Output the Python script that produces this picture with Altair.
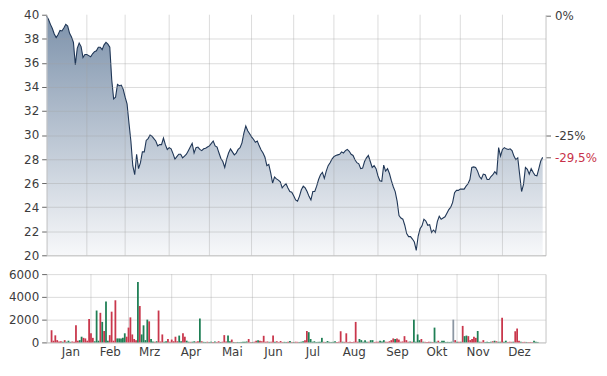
import json
import altair as alt
import pandas as pd

# ---------------- data ----------------
MONTHS = ["Jan", "Feb", "Mrz", "Apr", "Mai", "Jun", "Jul", "Aug", "Sep", "Okt", "Nov", "Dez"]

PRICE_JAN = [39.9, 39.6, 39.2, 38.85, 38.4, 38.1, 38.35, 38.7, 38.65, 38.9, 39.2, 39.05, 38.45, 38.15, 37.7,
             35.85, 37.2, 37.65, 37.35, 36.45, 36.7]
PRICE_FEB = [36.7, 36.6, 36.5, 36.75, 36.93, 37.0, 37.3, 37.3, 37.1, 37.5, 37.7, 37.55, 37.3, 34.6, 33.0,
             33.15, 34.2, 34.1, 34.15, 33.8]
PRICE_MRZ = [33.15, 32.6, 31.0, 29.5, 27.45, 26.7, 28.4, 27.2, 27.7, 28.6, 28.6, 29.55, 29.7, 30.0, 29.9,
             29.7, 29.5, 29.1, 29.2, 29.2, 29.75, 29.2, 28.8]
PRICE_APR = [28.95, 28.85, 28.45, 28.0, 28.2, 28.4, 28.4, 28.1, 28.25, 28.4, 28.7, 29.0, 29.3, 28.5, 28.95,
             29.0, 28.8, 28.7, 28.85, 28.9, 29.0]
PRICE_MAI = [29.1, 29.3, 29.5, 29.1, 29.0, 28.5, 28.05, 27.8, 27.3, 28.0, 28.5, 28.85, 28.6, 28.35, 28.5,
             28.8, 28.95, 29.35, 30.15, 30.75, 30.35, 30.1]
PRICE_JUN = [29.85, 29.65, 29.4, 29.5, 29.1, 28.75, 28.5, 28.15, 27.45, 27.55, 26.85, 26.0, 26.5, 26.35, 26.25,
             26.1, 25.6, 25.8, 25.95, 25.6, 25.3, 25.25]
PRICE_JUL = [24.95, 24.6, 24.5, 24.9, 25.45, 25.75, 25.6, 25.3, 24.9, 24.6, 25.3, 25.3, 25.75, 26.3, 26.7,
             26.9, 26.4, 27.0, 27.45, 27.7, 28.0]
PRICE_AUG = [28.2, 28.3, 28.35, 28.4, 28.6, 28.5, 28.7, 28.8, 28.65, 28.4, 28.3, 27.95, 27.7, 27.6, 27.2,
             27.25, 27.8, 28.1, 28.3, 27.8, 27.3, 27.45, 27.2]
PRICE_SEP = [26.6, 26.2, 26.15, 27.5, 27.0, 27.2, 26.8, 26.2, 25.7, 25.3, 24.5, 23.3, 23.1, 23.0, 22.5,
             21.8, 21.55, 21.55, 21.35, 21.1, 20.4, 21.6]
PRICE_OKT = [22.2, 22.45, 23.0, 22.85, 22.5, 22.55, 21.9, 22.1, 21.9, 22.8, 23.25, 23.0, 23.1, 23.2, 23.5,
             23.8, 24.0, 24.4, 25.2, 25.4, 25.4]
PRICE_NOV = [25.5, 25.5, 25.5, 25.75, 25.95, 26.3, 27.3, 27.35, 27.3, 27.0, 26.55, 26.35, 26.75, 26.7, 26.3,
             26.3, 26.55, 26.7, 26.95, 26.75, 28.95, 28.25]
PRICE_DEZ = [28.8, 28.95, 28.85, 28.8, 28.85, 28.7, 28.25, 27.95, 28.1, 26.7, 25.3, 25.9, 27.3, 27.15, 26.75,
             27.2, 26.9, 26.65, 26.6, 27.2, 27.85, 28.14]

VOL_JAN = [1070, 150, 620, 200, 80, 100, 60, 200, 60, 150, 50, 80, 60, 1500, 150, 200, 500, 400, 350, 150, 2050]
VOL_FEB = [800, 400, 100, 2800, 150, 2600, 1800, 1000, 3600, 150, 640, 2700, 150, 3700, 350, 350, 350, 400, 800, 500]
VOL_MRZ = [1300, 2200, 700, 300, 200, 5300, 3200, 700, 1500, 200, 2000, 1850, 300, 80, 60, 100, 2800, 80, 700,
           60, 100, 300, 60]
VOL_APR = [250, 100, 500, 100, 600, 100, 800, 500, 150, 60, 50, 60, 100, 60, 100, 2100, 100, 50, 40, 60, 40]
VOL_MAI = [60, 40, 80, 40, 100, 40, 60, 640, 80, 600, 100, 250, 40, 30, 40, 30, 40, 50, 60, 80, 300, 40]
VOL_JUN = [40, 60, 150, 200, 150, 100, 580, 60, 80, 50, 60, 600, 60, 100, 40, 120, 40, 50, 40, 60, 120, 40]
VOL_JUL = [40, 60, 50, 40, 60, 100, 200, 1000, 900, 300, 60, 100, 40, 50, 60, 400, 50, 40, 120, 50, 40]
VOL_AUG = [50, 100, 40, 60, 980, 60, 50, 800, 40, 50, 40, 60, 1800, 60, 300, 200, 60, 200, 50, 60, 200, 200, 40]
VOL_SEP = [60, 60, 150, 80, 200, 60, 50, 100, 200, 350, 300, 350, 250, 60, 80, 550, 200, 60, 80, 60, 2000, 60]
VOL_OKT = [700, 200, 300, 60, 50, 40, 60, 50, 40, 1300, 60, 150, 40, 150, 150, 40, 50, 40, 60, 2000, 200]
VOL_NOV = [60, 50, 60, 1450, 550, 600, 550, 200, 300, 500, 400, 1000, 60, 50, 200, 40, 50, 40, 60, 100, 150, 100]
VOL_DEZ = [50, 60, 2170, 50, 150, 40, 60, 50, 60, 980, 1220, 150, 60, 40, 50, 40, 30, 40, 30, 150, 60, 40]

# bar colour per day: r = down, g = up, n = unchanged
DIR_JAN = "rrrrrrgrgggrrrrggrrrr"
DIR_FEB = "rrgggrgrggrrrrgggggr"
DIR_MRZ = "rrrrrgrggggrggrgrrrggrr"
DIR_APR = "rrrrggrrggrggrrgrggrg"
DIR_MAI = "grgrrgrrrggrgrggggggrr"
DIR_JUN = "grrgrrrrrgrrgrrrrggrgr"
DIR_JUL = "grrgggrrggggggggrgggg"
DIR_AUG = "ggrrrgrrrrrrrrgggggrggr"
DIR_SEP = "rrgggrrrrrgrrrrrrrgrgg"
DIR_OKT = "ggrgrrrgrggrgggggggnr"
DIR_NOV = "grgrggrrrrrggrrggggrgr"
DIR_DEZ = "ggrggrrrgrrrgrrgrrrggg"

# ---------------- table ----------------
prices = (PRICE_JAN + PRICE_FEB + PRICE_MRZ + PRICE_APR + PRICE_MAI + PRICE_JUN +
          PRICE_JUL + PRICE_AUG + PRICE_SEP + PRICE_OKT + PRICE_NOV + PRICE_DEZ)
vols = (VOL_JAN + VOL_FEB + VOL_MRZ + VOL_APR + VOL_MAI + VOL_JUN +
        VOL_JUL + VOL_AUG + VOL_SEP + VOL_OKT + VOL_NOV + VOL_DEZ)
dirs = (DIR_JAN + DIR_FEB + DIR_MRZ + DIR_APR + DIR_MAI + DIR_JUN +
        DIR_JUL + DIR_AUG + DIR_SEP + DIR_OKT + DIR_NOV + DIR_DEZ)

dates = pd.bdate_range("2022-01-03", "2022-12-30")
n = len(dates)
df = pd.DataFrame({
    "t": list(range(n)),
    "date": dates.strftime("%Y-%m-%d"),
    "price": prices,
    "vol": vols,
    "dir": list(dirs),
})

month_no = dates.month
starts = [int(df["t"][month_no == m].min()) for m in range(1, 13)]
ends = starts[1:] + [n]
mids = [(s + e) // 2 for s, e in zip(starts, ends)]
grid_df = pd.DataFrame({"t": starts[1:]})

p0 = prices[0]
p25 = p0 * 0.75
plast = prices[-1]


def de_pct(v):
    s = f"{round(v, 1):.1f}".rstrip("0").rstrip(".")
    if s in ("-0", ""):
        s = "0"
    return s.replace(".", ",") + "%"


lab0 = de_pct(0.0)
lab25 = de_pct(-25.0)
lablast = de_pct((plast / p0 - 1) * 100)
t1 = (p0 + p25) / 2
t2 = (p25 + plast) / 2

# ---------------- style ----------------
TXT = "#3c3c3c"
RED_TXT = "#c8324a"
GRID = "rgba(160,160,160,0.38)"
AX = "#c4c4c4"
TICK = "#666666"
RED = "#c9374c"
GREEN = "#1f7f55"
GRAY = "#8c97a3"
LINE = "#1f3656"
W = 504

xscale = alt.Scale(domain=[0, 260.5], nice=False, zero=False)

# ---------------- price panel ----------------
price_x_axis = alt.Axis(labels=False, ticks=False, grid=False, domain=True, domainColor=AX, title=None)

area = alt.Chart(df).mark_area(
    color=alt.Gradient(
        gradient="linear",
        stops=[alt.GradientStop(color="#7d92ab", offset=0),
               alt.GradientStop(color="#f7f8fa", offset=1)],
        x1=1, x2=1, y1=0, y2=1,
    )
).encode(
    x=alt.X("t:Q", scale=xscale, axis=price_x_axis),
    y=alt.Y("price:Q", scale=alt.Scale(domain=[20, 40], nice=False, zero=False),
            axis=alt.Axis(values=list(range(20, 41, 2)), title=None, grid=True,
                          gridColor={"condition": {"test": "datum.value >= 40", "value": "transparent"},
                                     "value": GRID},
                          tickSize=5, tickColor=TICK, domainColor=AX, labelPadding=3, zindex=1)),
    y2=alt.datum(20),
)

mgrid_p = alt.Chart(grid_df).mark_rule(color=GRID, strokeWidth=1).encode(
    x=alt.X("t:Q", scale=xscale, axis=price_x_axis)
)

line = alt.Chart(df).mark_line(color=LINE, strokeWidth=1.1).encode(
    x=alt.X("t:Q", scale=xscale, axis=price_x_axis),
    y=alt.Y("price:Q",
            axis=alt.Axis(orient="right", values=[p0, p25, plast], title=None, grid=False,
                          labelExpr=f"datum.value > {t1} ? '{lab0}' : datum.value > {t2} ? '{lab25}' : '{lablast}'",
                          labelColor={"condition": {"test": f"datum.value < {t2}", "value": RED_TXT},
                                      "value": TXT},
                          tickSize=5, tickColor=TICK, domainColor=AX, labelPadding=4)),
)

price_panel = alt.layer(area, mgrid_p, line).resolve_axis(y="independent").properties(width=W, height=243)

# ---------------- volume panel ----------------
month_expr = f"{json.dumps(MONTHS)}[indexof({json.dumps(mids)}, datum.value)]"
month_axis = alt.Axis(values=mids, labelExpr=month_expr, ticks=False, grid=False,
                      domainColor=AX, labelPadding=4, title=None, labelFlush=False)

mgrid_v = alt.Chart(grid_df).mark_rule(color=GRID, strokeWidth=1).encode(
    x=alt.X("t:Q", scale=xscale, axis=month_axis)
)

bars = alt.Chart(df).mark_bar(size=1.8).encode(
    x=alt.X("t:Q", scale=xscale, axis=month_axis),
    y=alt.Y("vol:Q", scale=alt.Scale(domain=[0, 6000], nice=False),
            axis=alt.Axis(values=[0, 2000, 4000, 6000], format="d", grid=True, gridColor=GRID,
                          tickSize=5, tickColor=TICK, domainColor=AX, labelPadding=3, title=None)),
    color=alt.Color("dir:N", scale=alt.Scale(domain=["r", "g", "n"], range=[RED, GREEN, GRAY]),
                    legend=None),
)

frame = alt.Chart(df).mark_bar(opacity=0, size=1).encode(
    x=alt.X("t:Q", scale=xscale, axis=month_axis),
    y=alt.Y("vol:Q", axis=alt.Axis(orient="right", labels=False, ticks=False, grid=False,
                                   domainColor=AX, title=None)),
)

vol_panel = alt.layer(mgrid_v, bars, frame).resolve_axis(y="independent").properties(width=W, height=69)

chart = alt.vconcat(price_panel, vol_panel, spacing=19, bounds="flush").properties(
    padding={"left": 0, "top": -1, "right": 2, "bottom": 4}
).configure(font="DejaVu Sans").configure_axis(
    labelFont="DejaVu Sans", labelFontSize=12, labelColor=TXT
).configure_view(stroke=None)

chart.save("out.html", embed_options={"renderer": "svg", "actions": False})
